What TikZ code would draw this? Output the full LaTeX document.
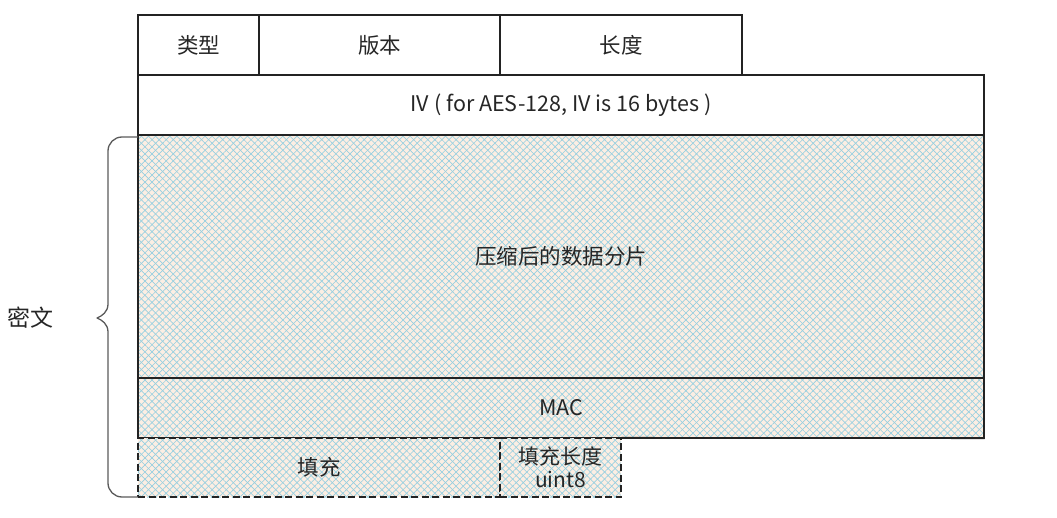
\documentclass[tikz,border=0pt]{standalone}
\usepackage{fontspec}
\setmainfont{Noto Sans CJK SC}
\usetikzlibrary{patterns.meta}
\definecolor{hatchblue}{RGB}{150,207,224}
\definecolor{peach}{RGB}{252,238,227}
\definecolor{frame}{RGB}{35,35,35}
\definecolor{bracegray}{RGB}{90,90,90}
\begin{document}
\begin{tikzpicture}[x=1pt,y=-1pt,
  font=\fontsize{21.5}{25}\selectfont,
  cell/.style={draw=frame,line width=1.1pt,inner sep=0pt,text=black!85},
  hatch/.style={preaction={fill=peach},
    preaction={pattern={Lines[angle=45,distance=5pt,line width=0.65pt]},pattern color=hatchblue},
    preaction={pattern={Lines[angle=-45,distance=5pt,line width=0.65pt]},pattern color=hatchblue}},
  dashcell/.style={draw=frame,line width=1.1pt,dash pattern=on 7pt off 3.5pt,inner sep=0pt,text=black!85},
  bracestyle/.style={draw=bracegray,line width=1.3pt,line join=round}]
\useasboundingbox (0,0) rectangle (1057,518);
% top row
\node[cell,minimum width=121pt,minimum height=60pt] (type) at (198.5,45) {类型};
\node[cell,minimum width=241pt,minimum height=60pt] (ver) at (379.5,45) {版本};
\node[cell,minimum width=242pt,minimum height=60pt] (len) at (621,45) {长度};
% IV
\node[cell,minimum width=846pt,minimum height=60pt] (iv) at (561,105) {IV ( for AES-128, IV is 16 bytes )};
% data
\node[cell,hatch,minimum width=846pt,minimum height=243pt] (data) at (561,256.5) {压缩后的数据分片};
% MAC
\node[cell,hatch,minimum width=846pt,minimum height=60pt] (mac) at (561,408) {MAC};
% padding
\node[dashcell,hatch,minimum width=362pt,minimum height=59pt] (pad) at (319,467.5) {填充};
\node[dashcell,hatch,minimum width=121pt,minimum height=59pt,align=center,font=\fontsize{21}{23}\selectfont] (padlen) at (560.5,467.5) {填充长度\\uint8};
\draw[frame,line width=1.1pt] (padlen.north east) -- (mac.south east);
% brace
\coordinate (bt) at (138,137);
\coordinate (bb) at (138,497);
\coordinate (tip) at (97,318);
\draw[bracestyle] (bt) -- (122,137) arc[start angle=90,end angle=180,radius=14pt] -- (108,304)
  .. controls (108,312) and (102,316) .. (tip)
  .. controls (102,320) and (108,324) .. (108,332)
  -- (108,483) arc[start angle=180,end angle=270,radius=14pt] -- (bb);
\node[text=black!85,font=\fontsize{23}{26}\selectfont] (cipher) at (31,318) {密文};
\end{tikzpicture}
\end{document}
